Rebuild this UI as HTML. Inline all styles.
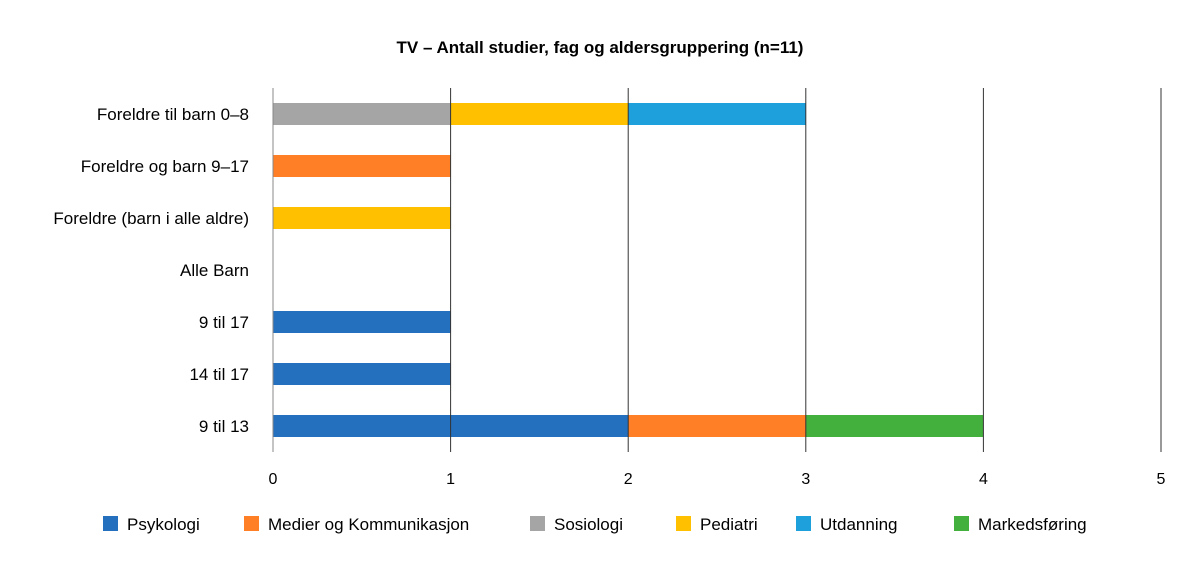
<!DOCTYPE html>
<html><head><meta charset="utf-8"><style>
body{margin:0;background:#fff;font-family:"Liberation Sans",sans-serif;}
</style></head><body>
<svg id="c" width="1200" height="569" xmlns="http://www.w3.org/2000/svg" font-family="Liberation Sans, sans-serif">
<text x="600" y="53" text-anchor="middle" font-size="17" font-weight="bold">TV – Antall studier, fag og aldersgruppering (n=11)</text>
<g id="bars"></g><g id="grid"></g><g id="labels"></g><g id="legend"></g>
</svg>
<script>
const categories=["Foreldre til barn 0–8","Foreldre og barn 9–17","Foreldre (barn i alle aldre)","Alle Barn","9 til 17","14 til 17","9 til 13"];
const seriesNames=["Psykologi","Medier og Kommunikasjon","Sosiologi","Pediatri","Utdanning","Markedsføring"];
const psykologi=[0,0,0,0,1,1,2];
const medier=[0,1,0,0,0,0,1];
const sosiologi=[1,0,0,0,0,0,0];
const pediatri=[1,0,1,0,0,0,0];
const utdanning=[1,0,0,0,0,0,0];
const markedsforing=[0,0,0,0,0,0,1];
const tickLabels=["0","1","2","3","4","5"];
const series=[psykologi,medier,sosiologi,pediatri,utdanning,markedsforing];
const colors=["#2470be","#ff7f27","#a5a5a5","#ffc000","#1ea0dc","#43b03d"];
const NS="http://www.w3.org/2000/svg";
const x0=273,x1=1161,xmax=5,plotTop=88,plotBottom=452;
const xs=v=>x0+(x1-x0)*v/xmax;
const band=(plotBottom-plotTop)/categories.length;
const yc=i=>plotTop+band*(i+0.5);
function mk(t,a,p){const e=document.createElementNS(NS,t);for(const k in a)e.setAttribute(k,a[k]);p.appendChild(e);return e;}
const g=document.getElementById('grid');
tickLabels.forEach((t,i)=>{const v=+t;
const l=mk('line',{x1:xs(v),x2:xs(v),y1:plotTop,y2:plotBottom,stroke:i==0?'#888':'#333','stroke-width':1},g);


const tx=mk('text',{x:xs(v),y:484,'text-anchor':'middle','font-size':16},g);tx.textContent=t;

});
const b=document.getElementById('bars'),lb=document.getElementById('labels');
categories.forEach((c,i)=>{
const t=mk('text',{x:249,y:yc(i)+6,'text-anchor':'end','font-size':17},lb);t.textContent=c;


let acc=0;series.forEach((s,j)=>{const v=s[i];if(!v)return;
const r=mk('rect',{x:xs(acc),y:yc(i)-11,width:xs(acc+v)-xs(acc),height:22,fill:colors[j]},b);


acc+=v;});});
const lg=document.getElementById('legend');
const lx=[103,244,530,676,796,954];
seriesNames.forEach((n,j)=>{
const r=mk('rect',{x:lx[j],y:516,width:15,height:15,fill:colors[j]},lg);


const t=mk('text',{x:lx[j]+24,y:530,'font-size':17},lg);t.textContent=n;

});
</script>
</body></html>
